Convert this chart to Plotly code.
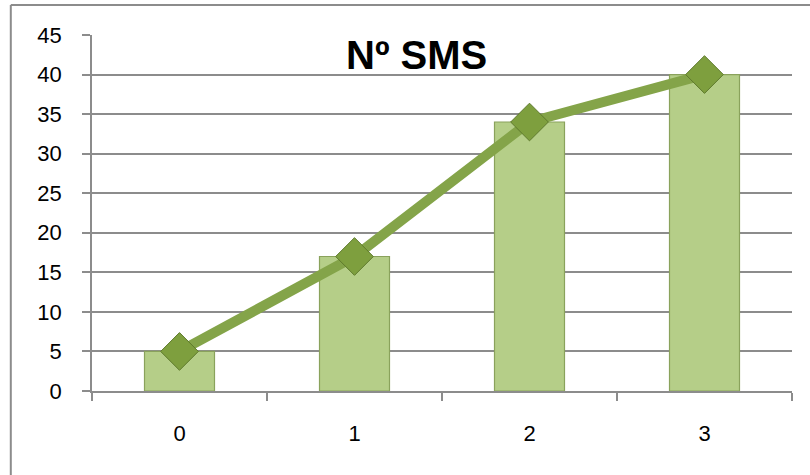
import plotly.graph_objects as go

categories = ["0", "1", "2", "3"]
bar_values = [5, 17, 34, 40]
line_values = [5, 17, 34, 40]
y_ticks = [0, 5, 10, 15, 20, 25, 30, 35, 40, 45]
title_text = "Nº SMS"

fig = go.Figure()

# bars
fig.add_trace(go.Bar(
    x=categories,
    y=bar_values,
    width=0.4,
    marker=dict(color='#b5ce88', line=dict(color='#8aa25c', width=1.2)),
    showlegend=False,
))

# line with diamond markers
fig.add_trace(go.Scatter(
    x=categories,
    y=line_values,
    mode='lines+markers',
    line=dict(color='#84a449', width=10),
    marker=dict(symbol='diamond', size=29, color='#7e9f3e',
                line=dict(color='#5e7a2c', width=1)),
    showlegend=False,
))

font = "Liberation Sans, Arial, sans-serif"

fig.update_xaxes(
    type='category',
    tickson='boundaries',
    ticks='outside', ticklen=8, tickwidth=1.5, tickcolor='#8c8c8c',
    showline=True, linecolor='#8c8c8c', linewidth=1.5,
    showgrid=False,
    tickfont=dict(family=font, size=22, color='black'),
    ticklabelstandoff=22,
)
fig.update_yaxes(
    range=[0, 45],
    tickvals=y_ticks,
    ticks='outside', ticklen=8, tickwidth=1.5, tickcolor='#8c8c8c',
    showline=True, linecolor='#8c8c8c', linewidth=1.5,
    showgrid=True, gridcolor='#8c8c8c', gridwidth=1.5,
    zeroline=False,
    tickfont=dict(family=font, size=22, color='black'),
    ticklabelstandoff=16,
)

# title sits inside the plot area
fig.add_annotation(
    text="<b>" + title_text + "</b>",
    xref='paper', yref='paper', x=0.463, y=0.944,
    xanchor='center', yanchor='middle',
    showarrow=False,
    font=dict(family=font, size=40, color='black'),
)

# outer frame: only top and left edges visible
fig.add_shape(type='line', xref='paper', yref='paper',
              x0=-0.116, x1=1.03, y0=1.084, y1=1.084,
              line=dict(color='#8c8c8c', width=2))
fig.add_shape(type='line', xref='paper', yref='paper',
              x0=-0.116, x1=-0.116, y0=1.084, y1=-0.24,
              line=dict(color='#8c8c8c', width=2))

fig.update_layout(
    width=810, height=475,
    margin=dict(l=92, r=18, t=35, b=84),
    plot_bgcolor='white',
    paper_bgcolor='white',
    bargap=0.6,
)

fig.write_html("out.html", config={'displayModeBar': False},
               post_script="document.body.style.margin='0';")
